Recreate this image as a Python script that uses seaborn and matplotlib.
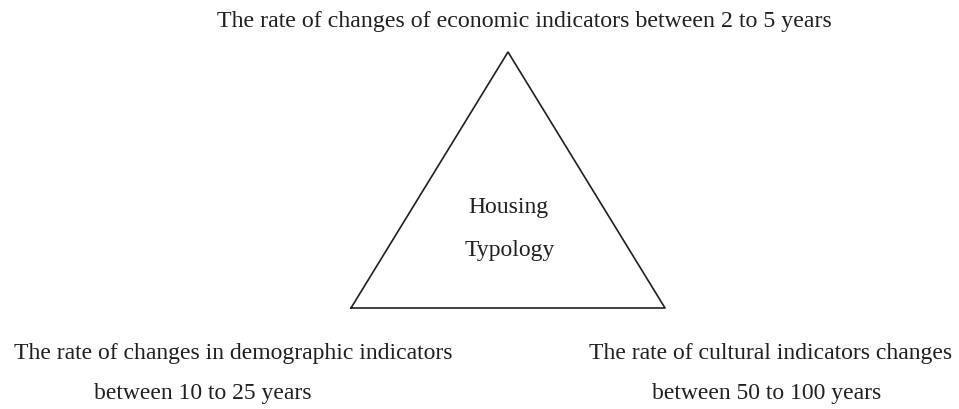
import matplotlib
matplotlib.use('Agg')
import matplotlib.pyplot as plt
import seaborn as sns

# triangle corners (pixel space of the 959x410 canvas, y downwards)
tri_x = [351, 508, 665, 351]
tri_y = [309, 53, 309, 309]

centre_lines = ['Housing', 'Typology']
centre_x = [508, 510]
centre_y = [213, 256]

top_label = 'The rate of changes of economic indicators between 2 to 5 years'
left_lines = ['The rate of changes in demographic indicators', 'between 10 to 25 years']
left_x = [233, 203]
right_lines = ['The rate of cultural indicators changes', 'between 50 to 100 years']
right_x = [771, 767]
bottom_y = [359, 399]

sns.set_theme(style='white')
plt.rcParams['font.family'] = ['Liberation Serif', 'DejaVu Serif']

ink = '#231f20'

fig = plt.figure(figsize=(9.59, 4.10), dpi=100)
ax = fig.add_axes([0, 0, 1, 1])

sns.lineplot(x=tri_x, y=tri_y, sort=False, color=ink, linewidth=1.2, ax=ax, estimator=None)

ax.text(524, 27, top_label, ha='center', va='baseline', fontsize=17.2, color=ink)
for s, x, y in zip(centre_lines, centre_x, centre_y):
    ax.text(x, y, s, ha='center', va='baseline', fontsize=17, color=ink)
for s, x, y in zip(left_lines, left_x, bottom_y):
    ax.text(x, y, s, ha='center', va='baseline', fontsize=17, color=ink)
for s, x, y in zip(right_lines, right_x, bottom_y):
    ax.text(x, y, s, ha='center', va='baseline', fontsize=17, color=ink)

ax.set_xlim(0, 959)
ax.set_ylim(410, 0)
ax.axis('off')

fig.savefig('out.png', dpi=100, facecolor='white')
